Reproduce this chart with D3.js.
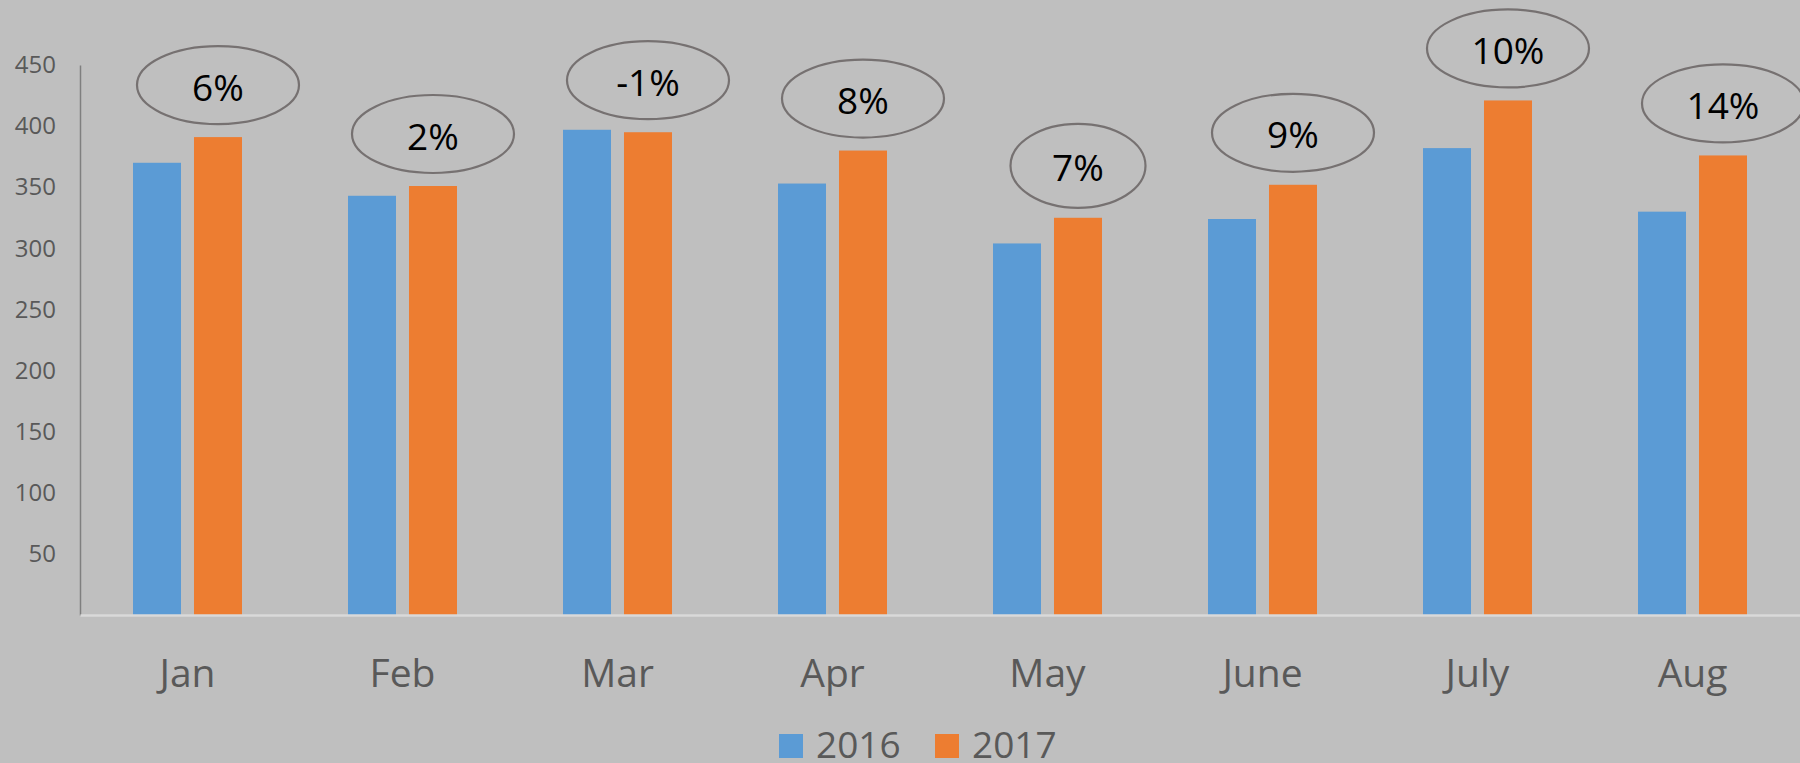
<!DOCTYPE html>
<html>
<head>
<meta charset="utf-8">
<script src="https://cdn.jsdelivr.net/npm/d3@7"></script>
<style>
  html, body { margin: 0; padding: 0; background: #bfbfbf; overflow: hidden; }
  svg { display: block; }
  text { font-family: "Open Sans", "Noto Sans", sans-serif; }
</style>
</head>
<body>
<svg id="chart" width="1800" height="763"></svg>
<script>
// ---- data ----
const months = ["Jan", "Feb", "Mar", "Apr", "May", "June", "July", "Aug"];
const seriesNames = ["2016", "2017"];
const values2016 = [370, 343, 397, 353, 304, 324, 382, 330];
const values2017 = [391, 351, 395, 380, 325, 352, 421, 376];
const changeLabels = ["6%", "2%", "-1%", "8%", "7%", "9%", "10%", "14%"];
const yTicks = [50, 100, 150, 200, 250, 300, 350, 400, 450];

// ---- styles / layout ----
const colors = { "2016": "#5b9bd5", "2017": "#ed7d31" };
const W = 1800, H = 763;
const plot = { left: 80, right: 1800, top: 65, bottom: 615 };
const ellipseDefault = { rx: 81, ry: 39 };
const ellipseOverride = { "May": { rx: 67.5, ry: 42 } };

const svg = d3.select("#chart");
svg.append("rect").attr("width", W).attr("height", H).attr("fill", "#bfbfbf");

const x0 = d3.scaleBand().domain(months).range([plot.left, plot.right]).padding(0);
const x1 = d3.scaleBand().domain(seriesNames).range([0, x0.bandwidth()])
  .paddingInner(0.213).paddingOuter(0.869);
const y = d3.scaleLinear().domain([0, 450]).range([plot.bottom, plot.top]);

const rows = months.map((m, i) => ({
  month: m,
  "2016": values2016[i],
  "2017": values2017[i],
  label: changeLabels[i]
}));

// bars
const groups = svg.append("g").selectAll("g").data(rows).join("g")
  .attr("transform", d => `translate(${x0(d.month)},0)`);
groups.selectAll("rect")
  .data(d => seriesNames.map(s => ({ s, v: d[s] })))
  .join("rect")
  .attr("x", d => x1(d.s))
  .attr("width", x1.bandwidth())
  .attr("y", d => y(d.v))
  .attr("height", d => y(0) - y(d.v))
  .attr("fill", d => colors[d.s]);

// y axis
const yAxis = svg.append("g")
  .attr("transform", `translate(${plot.left},0)`)
  .call(d3.axisLeft(y).tickValues(yTicks).tickSize(0).tickSizeOuter(0).tickPadding(24));
yAxis.select(".domain").attr("stroke", "#7f7f7f").attr("stroke-width", 1.5);
yAxis.selectAll("text").attr("fill", "#595959").style("font-size", "24px")
  .style("font-family", '"Open Sans", sans-serif');

// x axis
const xAxis = svg.append("g")
  .attr("transform", `translate(0,${plot.bottom})`)
  .call(d3.axisBottom(x0).tickSize(0).tickSizeOuter(0).tickPadding(44));
xAxis.select(".domain").attr("stroke", "#d9d9d9").attr("stroke-width", 2.5);
xAxis.selectAll("text").attr("fill", "#595959").style("font-size", "39px")
  .style("font-family", '"Open Sans", sans-serif');

// change annotations
const ann = svg.append("g").selectAll("g").data(rows).join("g")
  .attr("transform", d => {
    const cx = x0(d.month) + x1("2017") + x1.bandwidth() / 2;
    const cy = y(d["2017"]) - 52;
    return `translate(${cx},${cy})`;
  });
ann.append("ellipse")
  .attr("rx", d => (ellipseOverride[d.month] || ellipseDefault).rx)
  .attr("ry", d => (ellipseOverride[d.month] || ellipseDefault).ry)
  .attr("fill", "none")
  .attr("stroke", "#767171")
  .attr("stroke-width", 2.2);
ann.append("text")
  .attr("text-anchor", "middle")
  .attr("y", 15.5)
  .attr("fill", "#000")
  .style("font-size", "37px")
  .text(d => d.label);

// legend
const legendPos = { "2016": 779, "2017": 935 };
const legend = svg.append("g").selectAll("g").data(seriesNames).join("g")
  .attr("transform", d => `translate(${legendPos[d]},734)`);
legend.append("rect").attr("width", 24).attr("height", 24).attr("fill", d => colors[d]);
legend.append("text")
  .attr("x", 37).attr("y", 24)
  .attr("fill", "#595959")
  .style("font-size", "37px")
  .text(d => d);
</script>
</body>
</html>
